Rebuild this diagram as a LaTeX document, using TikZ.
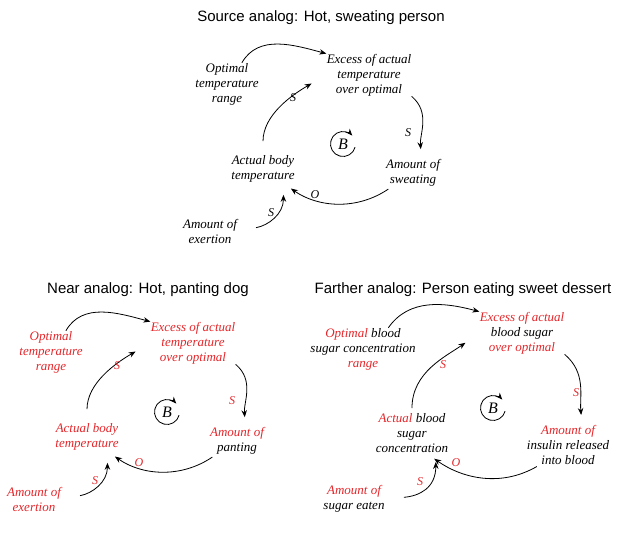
\documentclass[tikz,border=0pt]{standalone}
\usepackage{fontspec}
\setmainfont{Liberation Serif}
\newfontfamily\headfont{Liberation Sans}
\usetikzlibrary{arrows.meta,positioning}
\definecolor{analogred}{RGB}{228,38,42}

\begin{document}
\begin{tikzpicture}[x=1pt, y=1pt, thick, >={Stealth[length=7pt,width=5.5pt]}]
\tikzstyle{every node} = [inner sep=0pt]
\tikzstyle{head} = [font=\headfont\fontsize{15}{18}\selectfont]
\tikzstyle{var} = [font=\itshape\fontsize{13}{15}\selectfont, align=center]
\tikzstyle{sign} = [font=\itshape\fontsize{12}{14}\selectfont]
\tikzstyle{loopsym} = [font=\itshape\fontsize{16}{18}\selectfont]
\useasboundingbox (0,0) rectangle (633,-534);

% source analog
\node[head] (t1) at (321,-18) {Source analog: Hot, sweating person};
\node[var] (exc) at (369,-75) {Excess of actual\\temperature\\over optimal};
\node[var] (opt) at (227,-84) {Optimal\\temperature\\range};
\node[var] (act) at (263,-169) {Actual body\\temperature};
\node[var] (amt) at (413,-173) {Amount of\\sweating};
\node[var] (exe) at (210,-231) {Amount of\\exertion};
\node[loopsym] (b) at (343,-144) {B};
\draw[->] (b) ++(-15:12.5pt) arc[start angle=-15, end angle=-318, radius=12.5pt];
\draw[->] (opt.55) to[out=60,in=165] (exc.north west);
\draw[->, shorten <=14pt, shorten >=17pt] (act.north) to[out=90,in=210] (exc.west);
\draw[->, shorten >=10pt] (exc.south east) to[out=-40,in=95] (amt.58);
\draw[->, shorten <=4pt, shorten >=10pt] (amt.-147) to[out=214,in=-35] (act.-35);
\draw[->, shorten <=19pt, shorten >=12pt] (exe.east) to[out=10,in=-90, looseness=1.2] (act.-34);
\node[sign] (s1) at (293,-98) {S};
\node[sign] (s2) at (408,-133) {S};
\node[sign] (o1) at (315,-195) {O};
\node[sign] (s3) at (271,-213) {S};

% near analog
\begin{scope}[shift={(-176,-268)}]
\tikzstyle{var} = [font=\itshape\fontsize{13}{15}\selectfont, align=center, text=analogred]
\tikzstyle{sign} = [font=\itshape\fontsize{12}{14}\selectfont, text=analogred]
\node[head] (t2) at (324,-22) {Near analog: Hot, panting dog};
\node[var] (exc2) at (369,-75) {Excess of actual\\temperature\\over optimal};
\node[var] (opt2) at (227,-84) {Optimal\\temperature\\range};
\node[var] (act2) at (263,-169) {Actual body\\temperature};
\node[var] (amt2) at (413,-173) {Amount of\\{\color{black}panting}};
\node[var] (exe2) at (210,-231) {Amount of\\exertion};
\node[loopsym] (b2) at (343,-144) {B};
\draw[->] (b2) ++(-15:12.5pt) arc[start angle=-15, end angle=-318, radius=12.5pt];
\draw[->] (opt2.55) to[out=60,in=165] (exc2.north west);
\draw[->, shorten <=14pt, shorten >=17pt] (act2.north) to[out=90,in=210] (exc2.west);
\draw[->, shorten >=10pt] (exc2.south east) to[out=-40,in=95] (amt2.58);
\draw[->, shorten <=4pt, shorten >=10pt] (amt2.-147) to[out=214,in=-35] (act2.-35);
\draw[->, shorten <=19pt, shorten >=12pt] (exe2.east) to[out=10,in=-90, looseness=1.2] (act2.-34);
\node[sign] (s4) at (293,-98) {S};
\node[sign] (s5) at (408,-133) {S};
\node[sign] (o2) at (315,-195) {O};
\node[sign] (s6) at (271,-213) {S};
\end{scope}

% farther analog
\begin{scope}[every node/.append style={text=black}]
\tikzstyle{sign} = [font=\itshape\fontsize{12}{14}\selectfont, text=analogred]
\node[head] (t3) at (463,-290) {Farther analog: Person eating sweet dessert};
\node[var] (exc3) at (522,-333) {{\color{analogred}Excess of actual}\\blood sugar\\{\color{analogred}over optimal}};
\node[var] (opt3) at (363,-349) {{\color{analogred}Optimal} blood\\sugar concentration\\{\color{analogred}range}};
\node[var] (act3) at (412,-433) {{\color{analogred}Actual} blood\\sugar\\concentration};
\node[var] (amt3) at (568,-445) {{\color{analogred}Amount of}\\insulin released\\into blood};
\node[var] (eat3) at (354,-499) {{\color{analogred}Amount of}\\sugar eaten};
\node[loopsym] (b3) at (493,-408) {B};
\draw[->] (b3) ++(-15:12.5pt) arc[start angle=-15, end angle=-318, radius=12.5pt];
\draw[->] (opt3.40) to[out=55,in=165] (exc3.north west);
\draw[->, shorten <=5pt, shorten >=17pt] (act3.north) to[out=90,in=215] (exc3.west);
\draw[->, shorten >=10pt] (exc3.south east) to[out=-40,in=95] (amt3.55);
\draw[->, shorten <=3pt, shorten >=10pt] (amt3.-145) to[out=210,in=-35] (act3.-55);
\draw[->, shorten <=19pt, shorten >=9pt] (eat3.east) to[out=5,in=-90, looseness=1.3] (act3.-40);
\node[sign] (s7) at (443,-365) {S};
\node[sign] (s8) at (576,-393) {S};
\node[sign] (o3) at (456,-463) {O};
\node[sign] (s9) at (420,-482) {S};
\end{scope}
\end{tikzpicture}
\end{document}
